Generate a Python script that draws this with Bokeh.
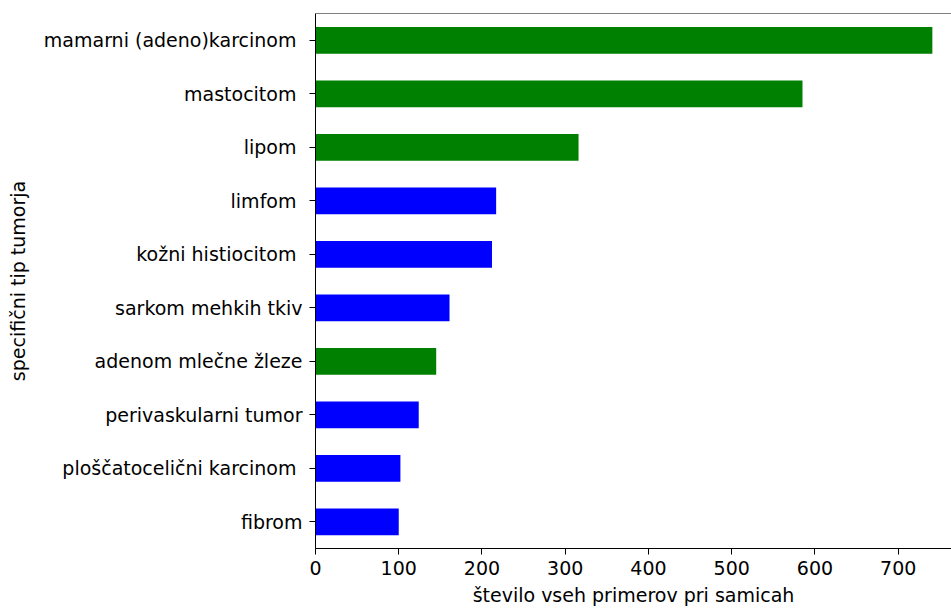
from bokeh.plotting import figure
from bokeh.models import Range1d, FactorRange, FixedTicker, Span, ColumnDataSource
from bokeh.embed import file_html
from bokeh.resources import INLINE

# data (top to bottom)
categories = ["mamarni (adeno)karcinom ", "mastocitom ", "lipom ", "limfom ",
              "kožni histiocitom ", "sarkom mehkih tkiv", "adenom mlečne žleze",
              "perivaskularni tumor", "ploščatocelični karcinom ", "fibrom"]
counts = [741, 585, 316, 217, 212, 161, 145, 124, 102, 100]
groups = ["g", "g", "g", "b", "b", "b", "g", "b", "b", "b"]
x_ticks = [0, 100, 200, 300, 400, 500, 600, 700]

color_map = {"g": "#008000", "b": "#0000ff"}
colors = [color_map[g] for g in groups]

src = ColumnDataSource(dict(cat=categories, val=counts, col=colors))

FONT = "DejaVu Sans"
p = figure(width=951, height=608, output_backend="svg", toolbar_location=None,
           y_range=FactorRange(factors=list(reversed(categories))),
           x_range=Range1d(0, 764),
           min_border_left=315, min_border_right=0, min_border_top=13, min_border_bottom=59)

p.hbar(y="cat", right="val", left=0, height=0.5, fill_color="col", line_color=None, source=src)

p.outline_line_color = None
p.add_layout(Span(location=10, dimension="width", line_color="black", line_width=1))
p.xgrid.visible = False
p.ygrid.visible = False

p.xaxis.ticker = FixedTicker(ticks=x_ticks)
p.xaxis.minor_tick_line_color = None
p.xaxis.major_tick_out = 6
p.xaxis.major_tick_in = 0
p.xaxis.major_label_standoff = 6
p.xaxis.axis_label = "število vseh primerov pri samicah"
p.xaxis.axis_label_standoff = 6
p.yaxis.major_tick_out = 6
p.yaxis.major_tick_in = 0
p.yaxis.major_label_standoff = 7
p.yaxis.axis_label = "specifični tip tumorja"
p.yaxis.axis_label_standoff = 12

for ax in (p.xaxis, p.yaxis):
    ax.axis_line_color = "black"
    ax.major_tick_line_color = "black"
    ax.major_label_text_font = FONT
    ax.major_label_text_font_size = "19px"
    ax.major_label_text_color = "black"
    ax.axis_label_text_font = FONT
    ax.axis_label_text_font_size = "19px"
    ax.axis_label_text_font_style = "normal"
    ax.axis_label_text_color = "black"

open("out.html", "w").write(file_html(p, INLINE))
